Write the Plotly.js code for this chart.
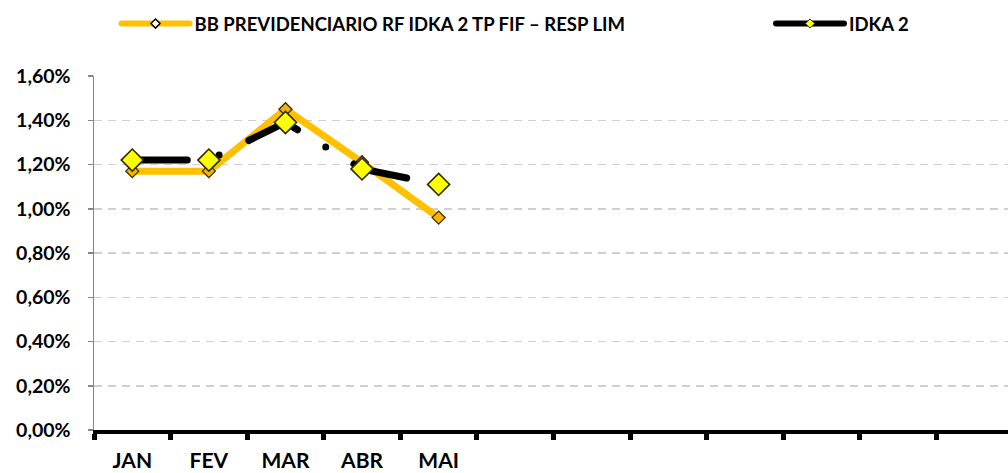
<!DOCTYPE html>
<html><head><meta charset="utf-8">
<script src="https://cdn.plot.ly/plotly-3.0.1.min.js"></script>
<style>
html,body{margin:0;padding:0;overflow:hidden;background:#fff;}
.js-line{stroke-linecap:round !important;}
</style></head>
<body><div id="chart"></div>
<script>
const months = ['JAN','FEV','MAR','ABR','MAI','JUN','JUL','AGO','SET','OUT','NOV','DEZ'];
const tickLabels = ['JAN','FEV','MAR','ABR','MAI','','','','','','',''];
const fundName = 'BB PREVIDENCIARIO RF IDKA 2 TP FIF – RESP LIM';
const benchName = 'IDKA 2';
const fundCats = ['JAN','FEV','MAR','ABR','MAI'];
const fundValues = [1.17, 1.17, 1.45, 1.21, 0.96];
const benchValues = [1.22, 1.22, 1.39, 1.18, 1.11];

const FONT = 'Lato, "Open Sans", sans-serif';
const legendFont = {family:FONT, size:18.5, weight:700, color:'#000'};
const traces = [
  {x: fundCats, y: fundValues, type:'scatter', mode:'lines+markers', showlegend:false, hoverinfo:'skip',
   line:{color:'#FFC000', width:7},
   marker:{symbol:'diamond', size:10, color:'#F5B400', line:{color:'#3a2a00', width:1.3}}},
  {x: fundCats, y: benchValues, type:'scatter', mode:'lines+markers', showlegend:false, hoverinfo:'skip',
   line:{color:'#000000', width:7, dash:'55px,33px,0px,33px'},
   marker:{symbol:'diamond', size:17, color:'#FFFF00', line:{color:'#2b2b00', width:1.6}}},
  {x:[null], y:[null], type:'scatter', mode:'lines+markers', name: fundName, legend:'legend',
   line:{color:'#FFC000', width:6},
   marker:{symbol:'diamond', size:7, color:'#ffffff', line:{color:'#000', width:1.5}}},
  {x:[null], y:[null], type:'scatter', mode:'lines+markers', name: benchName, legend:'legend2',
   line:{color:'#000000', width:6},
   marker:{symbol:'diamond', size:7, color:'#FFFF00', line:{color:'#333', width:1}}}
];
const layout = {
  width:1013, height:473,
  margin:{l:94, r:0, t:76, b:43},
  paper_bgcolor:'#fff', plot_bgcolor:'#fff',
  font:{family:FONT, color:'#000'},
  showlegend:true,
  legend:{orientation:'h', xref:'container', yref:'container', x:0.115, y:1-24/473, xanchor:'left', yanchor:'middle',
    itemwidth:68, font:legendFont, bgcolor:'rgba(0,0,0,0)'},
  legend2:{orientation:'h', xref:'container', yref:'container', x:771/1013, y:1-24/473, xanchor:'left', yanchor:'middle',
    itemwidth:68, font:legendFont, bgcolor:'rgba(0,0,0,0)'},
  xaxis:{type:'category', categoryorder:'array', categoryarray:months, range:[-0.5,11.5],
    tickmode:'array', tickvals:months, ticktext:tickLabels, tickson:'boundaries',
    ticks:'outside', ticklen:6, tickwidth:5, tickcolor:'#000',
    showline:true, linecolor:'#000', linewidth:4, showgrid:false, zeroline:false,
    tickfont:{family:FONT, size:21, weight:700, color:'#000'}, ticklabelstandoff:9, fixedrange:true},
  yaxis:{range:[0,1.6], tickmode:'linear', tick0:0, dtick:0.2, tickformat:'.2f', ticksuffix:'%',
    showline:true, linecolor:'#868686', linewidth:1.5, ticks:'outside', ticklen:5, tickcolor:'#868686', tickwidth:1.5,
    showgrid:true, gridcolor:'#cfcfcf', gridwidth:1.5, griddash:'8px,6px', zeroline:false,
    tickfont:{family:FONT, size:19.5, weight:700, color:'#000'}, ticklabelstandoff:13, fixedrange:true},
  separators:',.'
};
Plotly.newPlot('chart', traces, layout, {displayModeBar:false, staticPlot:true});
</script></body></html>
